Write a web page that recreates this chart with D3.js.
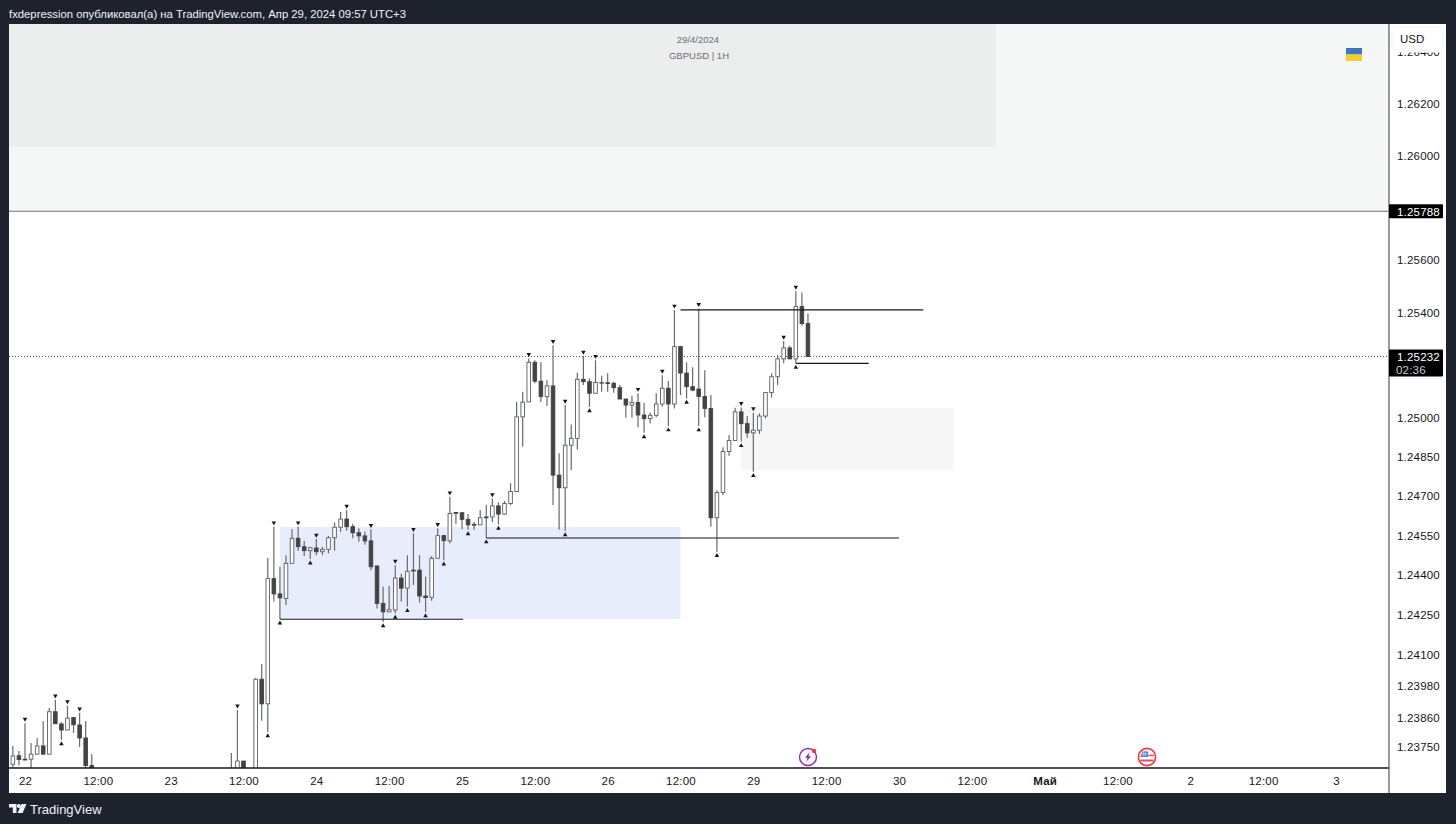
<!DOCTYPE html>
<html>
<head>
    <meta charset="utf-8">
    <title>GBPUSD 1H</title>
    <script src="https://d3js.org/d3.v7.min.js"></script>
    <style>
        html, body { margin: 0; padding: 0; background: #1e222d; overflow: hidden; }
        svg { display: block; }
        text { font-family: "Liberation Sans", Arimo, sans-serif; }
        .axis path, .axis line { display: none; }
        .axis text { font-size: 11.5px; fill: #131722; font-family: "Liberation Sans", sans-serif; letter-spacing: 0.2px; }
    </style>
</head>
<body>
    <svg id="chart" width="1456" height="824"></svg>

    <script>
        // hours since Apr 22 00:00, bars below the visible range are left out
        var barIndex = [-2,-1,0,1,2,3,4,5,6,7,8,9,10,11, 34,35,36,
            38,39,40,41,42,43,44,45,46,47,48,49,
            50,51,52,53,54,55,56,57,58,59,
            60,61,62,63,64,65,66,67,68,69,
            70,71,72,73,74,75,76,77,78,79,
            80,81,82,83,84,85,86,87,88,89,
            90,91,92,93,94,95,96,97,98,99,
            100,101,102,103,104,105,106,107,108,109,
            110,111,112,113,114,115,116,117,118,119,
            120,121,122,123,124,125,126,127,128,129];

        var opens = [1.23685,1.23717,1.23704,1.23704,1.23723,1.23754,1.23723,1.23883,1.23837,1.23814,1.23861,1.23833,1.23784,1.23680,
            1.23647,1.23624,1.23697,
            1.23605,1.24006,1.23913,1.24387,1.24329,1.24312,1.24445,1.24540,1.24508,1.24493,1.24503,1.24489,
            1.24498,1.24542,1.24582,1.24613,1.24584,1.24561,1.24549,1.24530,1.24435,1.24293,
            1.24261,1.24268,1.24389,1.24351,1.24419,1.24419,1.24321,1.24316,1.24464,1.24550,
            1.24530,1.24638,1.24637,1.24612,1.24593,1.24591,1.24621,1.24621,1.24663,1.24632,
            1.24672,1.24718,1.25002,1.25059,1.25210,1.25138,1.25079,1.25120,1.24780,1.24732,
            1.24894,1.24920,1.25145,1.25136,1.25092,1.25132,1.25132,1.25130,1.25113,1.25070,
            1.25047,1.25057,1.25009,1.24995,1.25008,1.25051,1.25111,1.25051,1.25270,1.25169,
            1.25117,1.25108,1.25080,1.25034,1.24618,1.24714,1.24870,1.24912,1.25021,1.24976,
            1.24941,1.24951,1.25005,1.25095,1.25155,1.25223,1.25265,1.25223,1.25423,1.25358];

        var highs = [1.23754,1.23735,1.23840,1.23765,1.23784,1.23848,1.23897,1.23928,1.23844,1.23906,1.23863,1.23879,1.23848,1.23723,
            1.23727,1.23890,1.23697,
            1.24012,1.24064,1.24465,1.24584,1.24432,1.24476,1.24574,1.24584,1.24530,1.24508,1.24537,1.24508,
            1.24549,1.24600,1.24640,1.24647,1.24595,1.24578,1.24565,1.24574,1.24435,1.24357,
            1.24359,1.24438,1.24405,1.24476,1.24559,1.24476,1.24395,1.24473,1.24578,1.24553,
            1.24698,1.24638,1.24637,1.24632,1.24602,1.24647,1.24666,1.24691,1.24677,1.24682,
            1.24749,1.25059,1.25098,1.25225,1.25218,1.25210,1.25142,1.25275,1.24863,1.25047,
            1.24973,1.25170,1.25234,1.25149,1.25218,1.25159,1.25168,1.25136,1.25123,1.25070,
            1.25082,1.25092,1.25056,1.25019,1.25092,1.25161,1.25139,1.25410,1.25270,1.25210,
            1.25191,1.25416,1.25180,1.25085,1.24723,1.24886,1.24933,1.25037,1.25038,1.25005,
            1.25018,1.25015,1.25095,1.25168,1.25237,1.25291,1.25273,1.25482,1.25477,1.25396];

        var lows = [1.23662,1.23681,1.23700,1.23655,1.23723,1.23723,1.23723,1.23837,1.23777,1.23814,1.23803,1.23750,1.23655,1.23643,
            1.23624,1.23605,1.23624,
            1.23586,1.23849,1.23807,1.24300,1.24233,1.24287,1.24445,1.24493,1.24473,1.24461,1.24476,1.24476,
            1.24483,1.24493,1.24565,1.24569,1.24540,1.24527,1.24515,1.24419,1.24274,1.24223,
            1.24260,1.24255,1.24300,1.24281,1.24363,1.24296,1.24261,1.24303,1.24464,1.24457,
            1.24521,1.24594,1.24574,1.24572,1.24572,1.24591,1.24541,1.24602,1.24593,1.24630,
            1.24666,1.24718,1.24888,1.25059,1.25130,1.25059,1.25043,1.24666,1.24572,1.24568,
            1.24799,1.24878,1.25123,1.25040,1.25092,1.25098,1.25098,1.25094,1.25069,1.24999,
            1.24999,1.24962,1.24941,1.24977,1.25000,1.25040,1.24967,1.25034,1.25085,1.25072,
            1.25100,1.24967,1.25000,1.24584,1.24489,1.24704,1.24854,1.24912,1.24907,1.24922,
            1.24793,1.24937,1.24996,1.25076,1.25123,1.25206,1.25223,1.25206,1.25349,1.25232];

        var closes = [1.23716,1.23703,1.23702,1.23723,1.23754,1.23723,1.23883,1.23838,1.23814,1.23859,1.23834,1.23784,1.23680,1.23655,
            1.23659,1.23697,1.23643,
            1.24006,1.23913,1.24387,1.24329,1.24314,1.24445,1.24540,1.24508,1.24493,1.24504,1.24489,1.24498,
            1.24542,1.24582,1.24613,1.24584,1.24561,1.24549,1.24530,1.24432,1.24293,1.24261,
            1.24269,1.24389,1.24351,1.24415,1.24416,1.24321,1.24315,1.24464,1.24550,1.24531,
            1.24634,1.24636,1.24612,1.24591,1.24591,1.24618,1.24619,1.24663,1.24632,1.24672,
            1.24718,1.25002,1.25058,1.25210,1.25138,1.25079,1.25120,1.24780,1.24732,1.24894,
            1.24920,1.25145,1.25136,1.25092,1.25133,1.25133,1.25131,1.25113,1.25070,1.25047,
            1.25057,1.25009,1.24995,1.25008,1.25051,1.25111,1.25051,1.25270,1.25169,1.25117,
            1.25104,1.25080,1.25034,1.24618,1.24714,1.24870,1.24912,1.25021,1.24976,1.24941,
            1.24951,1.25005,1.25095,1.25155,1.25223,1.25265,1.25223,1.25423,1.25358,1.25232];

        // pivot markers, as bar indexes
        var pivotHighs = [0,5,7,9,35,41,45,48,53,57,61,64,68,70,77,83,87,89,92,94,101,105,107,111,118,120,125,127];
        var pivotLows = [6,40,42,47,59,61,63,66,69,73,76,78,89,93,102,106,109,111,114,118,120,127];

        var priceTicks = [1.2375,1.2386,1.2398,1.241,1.2425,1.244,1.2455,1.247,1.2485,1.25,1.254,1.256,1.26,1.262,1.264];
        var timeTicks = [0,12,24,36,48,60,72,84,96,108,120,132,144,156,168,180,192,204,216];
        var timeLabels = ["22","12:00","23","12:00","24","12:00","25","12:00","26","12:00","29","12:00","30","12:00","Май","12:00","2","12:00","3"];

        var lastPrice = 1.25232, linePrice = 1.25788;

        // zones: x0, x1 in bars, top, bottom in price
        var zoneBars = [[42,108],[118,153],[-3,160]];
        var zonePrices = [[1.24583,1.24234],[1.25036,1.24799],[1.2680,1.26035]];
        var zoneColors = ["#e7edfb","#f5f6f5","#eceeed"];

        var levelBars = [[42,72.2],[76,144],[108,148],[127,139]];
        var levelPrices = [1.24233,1.24541,1.25410,1.25206];

        var panel = {left: 9, right: 1446, top: 24, bottom: 793},
            plotRight = 1389, plotBottom = 768;

        // the chart uses a log price scale, the odd tick steps come from that
        var x = d3.scaleLinear().domain([0, 216]).range([25, 1336]),
            y = d3.scaleLog().domain([1.2375, 1.262]).range([747, 104]);

        var bars = barIndex.map(function(d, i) {
            return {i: d, open: opens[i], high: highs[i], low: lows[i], close: closes[i]};
        });

        var svg = d3.select("#chart");

        svg.append("rect").attr("width", 1456).attr("height", 824).attr("fill", "#1e222d");

        svg.append("text").attr("x", 9).attr("y", 17.5)
            .attr("fill", "#f0f3fa").style("font-size", "11.3px")
            .text("fxdepression опубликовал(а) на TradingView.com, Апр 29, 2024 09:57 UTC+3");

        svg.append("rect")
            .attr("x", panel.left).attr("y", panel.top)
            .attr("width", panel.right - panel.left).attr("height", panel.bottom - panel.top)
            .attr("fill", "#fff");

        svg.append("defs").append("clipPath").attr("id", "plot")
            .append("rect")
            .attr("x", panel.left).attr("y", panel.top)
            .attr("width", plotRight - panel.left).attr("height", plotBottom - panel.top);

        var plot = svg.append("g").attr("clip-path", "url(#plot)");

        // light band above the line
        plot.append("rect")
            .attr("x", panel.left).attr("y", panel.top)
            .attr("width", plotRight - panel.left).attr("height", y(linePrice) - panel.top)
            .attr("fill", "#f5f7f6");

        plot.selectAll(".zone")
            .data(zoneBars)
            .enter().append("rect")
            .attr("class", "zone")
            .attr("x", function(d) { return x(d[0]); })
            .attr("y", function(d, i) { return y(zonePrices[i][0]); })
            .attr("width", function(d) { return x(d[1]) - x(d[0]); })
            .attr("height", function(d, i) { return y(zonePrices[i][1]) - y(zonePrices[i][0]); })
            .attr("fill", function(d, i) { return zoneColors[i]; });

        plot.append("line")
            .attr("x1", panel.left).attr("x2", plotRight)
            .attr("y1", y(linePrice)).attr("y2", y(linePrice))
            .attr("stroke", "#6f727a").attr("stroke-width", 1);

        plot.append("line")
            .attr("x1", panel.left).attr("x2", plotRight)
            .attr("y1", y(lastPrice)).attr("y2", y(lastPrice))
            .attr("stroke", "#555").attr("stroke-width", 1).attr("stroke-dasharray", "1,2");

        // candles
        var candle = plot.selectAll(".candle")
            .data(bars)
            .enter().append("g")
            .attr("class", "candle");

        candle.append("line")
            .attr("x1", function(d) { return x(d.i); })
            .attr("x2", function(d) { return x(d.i); })
            .attr("y1", function(d) { return y(d.high); })
            .attr("y2", function(d) { return y(d.low); })
            .attr("stroke", "#666a6e").attr("stroke-width", 1.2);

        candle.append("rect")
            .attr("x", function(d) { return x(d.i) - 1.8; })
            .attr("y", function(d) { return y(Math.max(d.open, d.close)); })
            .attr("width", 3.6)
            .attr("height", function(d) { return Math.max(0.8, Math.abs(y(d.open) - y(d.close))); })
            .attr("fill", function(d) { return d.close >= d.open ? "#fff" : "#434343"; })
            .attr("stroke", function(d) { return d.close >= d.open ? "#5a5d61" : "#434343"; })
            .attr("stroke-width", 0.9);

        var triangle = d3.symbol().type(d3.symbolTriangle).size(9);

        plot.selectAll(".pivot-high")
            .data(pivotHighs)
            .enter().append("path")
            .attr("class", "pivot-high")
            .attr("d", triangle)
            .attr("fill", "#131722")
            .attr("transform", function(d) {
                var b = bars.find(function(e) { return e.i === d; });
                return "translate(" + x(d) + "," + (y(b.high) - 4) + ") rotate(180)";
            });

        plot.selectAll(".pivot-low")
            .data(pivotLows)
            .enter().append("path")
            .attr("class", "pivot-low")
            .attr("d", triangle)
            .attr("fill", "#131722")
            .attr("transform", function(d) {
                var b = bars.find(function(e) { return e.i === d; });
                return "translate(" + x(d) + "," + (y(b.low) + 4) + ")";
            });

        plot.selectAll(".level")
            .data(levelBars)
            .enter().append("line")
            .attr("class", "level")
            .attr("x1", function(d) { return x(d[0]); })
            .attr("x2", function(d) { return x(d[1]); })
            .attr("y1", function(d, i) { return y(levelPrices[i]); })
            .attr("y2", function(d, i) { return y(levelPrices[i]); })
            .attr("stroke", "#131722").attr("stroke-width", 1.2);

        // watermark
        plot.append("text").attr("x", 698).attr("y", 43).attr("text-anchor", "middle")
            .attr("fill", "#6a6d78").style("font-size", "9.5px").text("29/4/2024");
        plot.append("text").attr("x", 699).attr("y", 58.5).attr("text-anchor", "middle")
            .attr("fill", "#6a6d78").style("font-size", "9.5px").text("GBPUSD | 1H");

        // flag
        plot.append("rect").attr("x", 1346).attr("y", 48).attr("width", 16).attr("height", 6.5).attr("fill", "#3f76bd");
        plot.append("rect").attr("x", 1346).attr("y", 54.5).attr("width", 16).attr("height", 6.5).attr("fill", "#f2cf2e");

        // event icons
        var bolt = svg.append("g").attr("transform", "translate(808,757)");
        bolt.append("circle").attr("r", 8.5).attr("fill", "#fff").attr("stroke", "#9c1fb5").attr("stroke-width", 1.4);
        bolt.append("path").attr("d", "M1.8,-5 L-3,0.8 L-0.4,0.8 L-1.8,5 L3,-0.8 L0.4,-0.8 Z").attr("fill", "#9c1fb5");
        bolt.append("circle").attr("cx", 6).attr("cy", -6).attr("r", 2.2).attr("fill", "#f23645");

        var usd = svg.append("g").attr("transform", "translate(1147,757)");
        usd.append("circle").attr("r", 8.6).attr("fill", "#fff").attr("stroke", "#f23645").attr("stroke-width", 1.6);
        usd.append("path").attr("d", "M-6.5,2.6 H6.5 V4.4 H-6.5 Z M-5,-4.6 L-1,-5.6 V0 H-6.6 Z").attr("fill", "#e8505b");
        usd.append("rect").attr("x", -4.8).attr("y", -5.5).attr("width", 6).attr("height", 5.4).attr("fill", "#2f7fe0");
        usd.append("rect").attr("x", 1.4).attr("y", -2.4).attr("width", 5.4).attr("height", 1.6).attr("fill", "#e8505b");
        usd.append("path").attr("d", "M-3.8,-5 V-0.5 M-1.8,-5 V-0.5 M-4.8,-3 H1.2").attr("stroke", "#fff").attr("stroke-width", 0.6);

        // axes
        var timeAxis = d3.axisBottom(x)
            .tickValues(timeTicks)
            .tickFormat(function(d, i) { return timeLabels[i]; })
            .tickSize(0).tickPadding(9);

        svg.append("g")
            .attr("class", "axis")
            .attr("transform", "translate(0," + plotBottom + ")")
            .call(timeAxis)
            .selectAll("text")
            .style("font-weight", function(d, i) { return timeLabels[i] === "Май" ? "bold" : null; });

        var priceAxis = d3.axisRight(y)
            .tickValues(priceTicks)
            .tickFormat(d3.format(".5f"))
            .tickSize(0).tickPadding(8);

        svg.append("g")
            .attr("class", "axis")
            .attr("transform", "translate(" + plotRight + ",0)")
            .call(priceAxis);

        svg.append("line")
            .attr("x1", panel.left).attr("x2", plotRight)
            .attr("y1", plotBottom).attr("y2", plotBottom)
            .attr("stroke", "#131722").attr("stroke-width", 1.3);
        svg.append("line")
            .attr("x1", plotRight).attr("x2", plotRight)
            .attr("y1", panel.top).attr("y2", panel.bottom)
            .attr("stroke", "#55585f").attr("stroke-width", 1.2);

        // currency box, sits over the top tick and hides most of it
        svg.append("rect").attr("x", plotRight + 1).attr("y", panel.top).attr("width", 56).attr("height", 28.5)
            .attr("fill", "#fff");
        svg.append("rect").attr("x", 1392).attr("y", 27).attr("width", 51).attr("height", 23).attr("rx", 3)
            .attr("fill", "#fff").attr("stroke", "#f0f3fa");
        svg.append("text").attr("x", 1400).attr("y", 43).attr("fill", "#131722")
            .style("font-size", "11.5px").text("USD");

        // price labels
        svg.append("rect").attr("x", plotRight).attr("y", y(linePrice) - 7).attr("width", 54).attr("height", 14)
            .attr("rx", 1).attr("fill", "#000");
        svg.append("text").attr("x", plotRight + 8).attr("y", y(linePrice) + 4.5).attr("fill", "#fff")
            .style("font-size", "11.5px").style("letter-spacing", "0.2px").text(d3.format(".5f")(linePrice));

        svg.append("rect").attr("x", plotRight).attr("y", y(lastPrice) - 7).attr("width", 54).attr("height", 27)
            .attr("rx", 1).attr("fill", "#000");
        svg.append("text").attr("x", plotRight + 8).attr("y", y(lastPrice) + 4.5).attr("fill", "#fff")
            .style("font-size", "11.5px").style("letter-spacing", "0.2px").text(d3.format(".5f")(lastPrice));
        svg.append("text").attr("x", plotRight + 7).attr("y", y(lastPrice) + 17).attr("fill", "#c8cad0")
            .style("font-size", "11.5px").style("letter-spacing", "0.2px").text("02:36");

        // footer logo
        var logo = svg.append("g").attr("fill", "#f0f3fa");
        logo.append("path").attr("d", "M9,804 H16.5 V813 H12.8 V807.6 H9 Z");
        logo.append("circle").attr("cx", 18.8).attr("cy", 806).attr("r", 1.9);
        logo.append("path").attr("d", "M21.5,804 H26.5 L22.6,813 H17.6 Z");
        svg.append("text").attr("x", 30).attr("y", 813.5).attr("fill", "#f0f3fa")
            .style("font-size", "13px").text("TradingView");
    </script>
</body>
</html>
